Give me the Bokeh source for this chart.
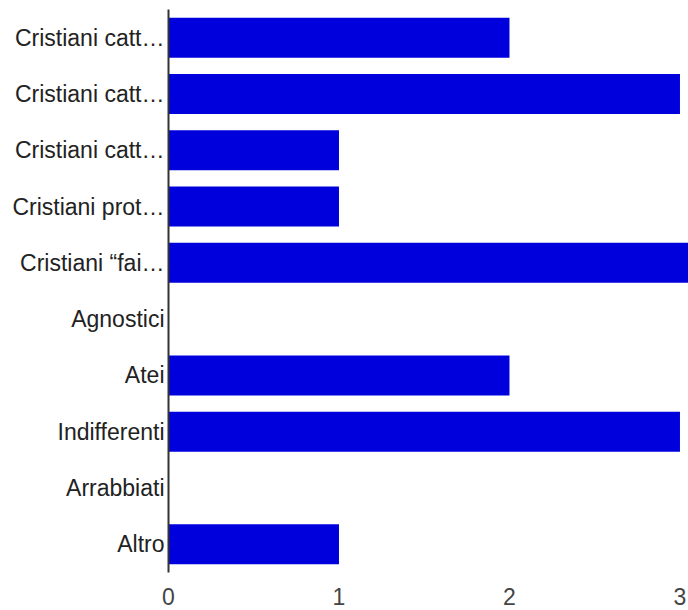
from bokeh.plotting import figure
from bokeh.models import ColumnDataSource, FixedTicker, Range1d
from bokeh.embed import file_html
from bokeh.resources import INLINE

categories = [
    "Cristiani catt…",
    "Cristiani catt…",
    "Cristiani catt…",
    "Cristiani prot…",
    "Cristiani “fai…",
    "Agnostici",
    "Atei",
    "Indifferenti",
    "Arrabbiati",
    "Altro",
]
counts = [2, 3, 1, 1, 4, 0, 2, 3, 0, 1]
x_ticks = [0, 1, 2, 3]

n = len(categories)
positions = list(range(1, n + 1))

src = ColumnDataSource(dict(y=positions, right=counts))

p = figure(
    width=688, height=610,
    x_range=Range1d(0, 3.05),
    y_range=Range1d(n + 0.5, 0.5),
    output_backend="svg",
    toolbar_location=None,
    min_border_left=168, min_border_right=0, min_border_top=9, min_border_bottom=38,
)
p.hbar(y="y", left=0, right="right", height=0.71, source=src,
       fill_color="#0000dc", line_color=None)

p.outline_line_color = None
p.grid.grid_line_color = None
p.background_fill_color = "white"
p.border_fill_color = "white"

ya = p.yaxis[0]
ya.ticker = FixedTicker(ticks=positions)
ya.major_label_overrides = {pos: lab for pos, lab in zip(positions, categories)}
ya.axis_line_color = "#333333"
ya.axis_line_width = 2
ya.major_tick_line_color = None
ya.minor_tick_line_color = None
ya.major_tick_out = 0
ya.major_tick_in = 0
ya.major_label_standoff = 4
ya.major_label_text_font = "Liberation Sans"
ya.major_label_text_font_size = "23px"
ya.major_label_text_color = "#222222"

xa = p.xaxis[0]
xa.ticker = FixedTicker(ticks=x_ticks)
xa.axis_line_color = None
xa.major_tick_line_color = None
xa.minor_tick_line_color = None
xa.major_tick_out = 0
xa.major_tick_in = 0
xa.major_label_standoff = 15
xa.major_label_text_font = "Liberation Sans"
xa.major_label_text_font_size = "23px"
xa.major_label_text_color = "#444444"

open("out.html", "w").write(file_html(p, INLINE))
